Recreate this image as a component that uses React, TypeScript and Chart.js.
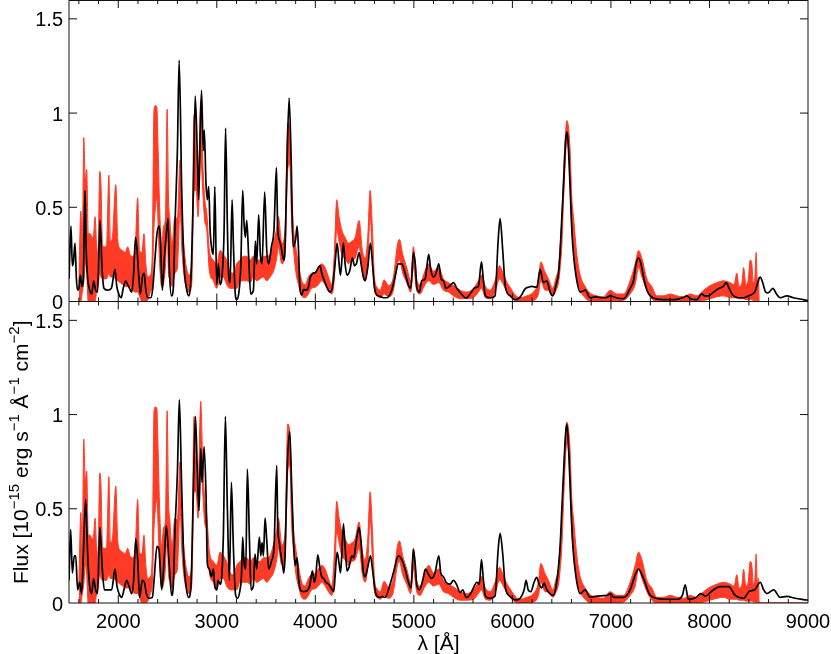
import { useEffect, useRef } from 'react';
import { Chart, registerables } from 'chart.js';

Chart.register(...registerables);

const X_MIN = 1500;
const X_MAX = 9000;
const Y_MAX = 1.6;
const xTickLabels = [2000, 3000, 4000, 5000, 6000, 7000, 8000, 9000];
const yTickLabels = [0, 0.5, 1, 1.5];
const xTitle = 'λ [Å]';

// model spectrum, upper panel: [wavelength Å, flux]
const modelTop: [number, number][] = [
  [1500, 0.12], [1520, 0.40], [1534, 0.19], [1545, 0.21], [1561, 0.31], [1575, 0.12], [1588, 0.06], [1600, 0.07],
  [1615, 0.14], [1630, 0.08], [1645, 0.12], [1662, 0.59], [1675, 0.27], [1690, 0.12], [1710, 0.06], [1730, 0.04],
  [1750, 0.11], [1770, 0.06], [1790, 0.05], [1815, 0.43], [1835, 0.18], [1855, 0.07], [1890, 0.06], [1930, 0.07],
  [1967, 0.17], [1985, 0.08], [2005, 0.04], [2030, 0.02], [2050, 0.07], [2075, 0.11], [2095, 0.09], [2115, 0.07],
  [2136, 0.05], [2155, 0.14], [2175, 0.34], [2190, 0.28], [2205, 0.16], [2224, 0.04], [2245, 0.13], [2263, 0.15],
  [2278, 0.07], [2298, 0.02], [2330, 0.02], [2350, 0.07], [2373, 0.23], [2393, 0.36], [2414, 0.40], [2427, 0.34],
  [2447, 0.06], [2468, 0.23], [2488, 0.36], [2505, 0.44], [2520, 0.15], [2540, 0.03], [2560, 0.08], [2576, 0.41],
  [2600, 0.80], [2618, 1.28], [2644, 0.59], [2667, 0.20], [2695, 0.06], [2718, 0.03], [2738, 0.13], [2762, 0.59],
  [2781, 1.09], [2803, 0.77], [2816, 0.54], [2830, 0.86], [2845, 1.12], [2863, 0.80], [2873, 0.91], [2890, 0.63],
  [2904, 0.54], [2918, 0.61], [2932, 0.38], [2952, 0.27], [2965, 0.25], [2980, 0.61], [2999, 0.09], [3016, 0.20],
  [3033, 0.09], [3057, 0.16], [3074, 0.38], [3089, 0.92], [3107, 0.41], [3121, 0.13], [3135, 0.10], [3155, 0.54],
  [3168, 0.31], [3185, 0.06], [3202, 0.01], [3222, 0.04], [3243, 0.18], [3263, 0.59], [3277, 0.41], [3290, 0.34],
  [3304, 0.43], [3324, 0.23], [3344, 0.04], [3371, 0.06], [3392, 0.32], [3405, 0.20], [3425, 0.46], [3442, 0.25],
  [3459, 0.20], [3486, 0.58], [3507, 0.27], [3527, 0.20], [3554, 0.29], [3580, 0.38], [3605, 0.71], [3618, 0.39],
  [3639, 0.32], [3653, 0.29], [3666, 0.25], [3679, 0.22], [3693, 0.29], [3710, 0.68], [3734, 1.08], [3754, 0.77],
  [3774, 0.29], [3800, 0.33], [3815, 0.40], [3828, 0.29], [3842, 0.09], [3862, 0.035], [3882, 0.065], [3902, 0.06],
  [3930, 0.075], [3950, 0.13], [3977, 0.15], [4004, 0.155], [4031, 0.18], [4048, 0.19], [4065, 0.15], [4092, 0.11],
  [4126, 0.065], [4150, 0.05], [4173, 0.075], [4200, 0.20], [4221, 0.31], [4241, 0.20], [4255, 0.14], [4285, 0.31],
  [4302, 0.20], [4322, 0.14], [4350, 0.165], [4376, 0.23], [4397, 0.19], [4417, 0.20], [4444, 0.26], [4464, 0.20],
  [4488, 0.13], [4505, 0.11], [4532, 0.18], [4559, 0.31], [4580, 0.20], [4600, 0.075], [4623, 0.035], [4657, 0.027],
  [4691, 0.02], [4725, 0.02], [4775, 0.06], [4809, 0.13], [4843, 0.20], [4877, 0.20], [4911, 0.15], [4945, 0.085],
  [4970, 0.07], [4995, 0.26], [5016, 0.19], [5029, 0.076], [5056, 0.05], [5080, 0.11], [5114, 0.12], [5151, 0.25],
  [5171, 0.17], [5198, 0.13], [5225, 0.15], [5253, 0.20], [5276, 0.12], [5300, 0.11], [5327, 0.07], [5368, 0.085],
  [5402, 0.10], [5436, 0.07], [5486, 0.037], [5530, 0.018], [5571, 0.04], [5621, 0.073], [5655, 0.08], [5686, 0.21],
  [5706, 0.11], [5726, 0.03], [5774, 0.02], [5824, 0.03], [5855, 0.32], [5875, 0.44], [5902, 0.27], [5929, 0.076],
  [5977, 0.03], [6028, 0.01], [6078, 0.023], [6129, 0.067], [6163, 0.076], [6197, 0.08], [6248, 0.076], [6281, 0.17],
  [6315, 0.10], [6349, 0.11], [6383, 0.05], [6410, 0.03], [6444, 0.09], [6468, 0.15], [6485, 0.27], [6502, 0.45],
  [6520, 0.63], [6540, 0.85], [6552, 0.90], [6565, 0.85], [6586, 0.60], [6603, 0.38], [6620, 0.25], [6654, 0.11],
  [6688, 0.05], [6738, 0.06], [6789, 0.02], [6850, 0.025], [6900, 0.02], [6950, 0.02], [6992, 0.03], [7050, 0.02],
  [7128, 0.015], [7195, 0.07], [7229, 0.11], [7255, 0.20], [7280, 0.23], [7305, 0.20], [7331, 0.13], [7365, 0.06],
  [7399, 0.03], [7450, 0.015], [7534, 0.01], [7650, 0.01], [7730, 0.02], [7771, 0.03], [7810, 0.015], [7872, 0.01],
  [7923, 0.04], [7950, 0.03], [7990, 0.03], [8041, 0.05], [8100, 0.07], [8140, 0.08], [8170, 0.10], [8200, 0.07],
  [8228, 0.04], [8295, 0.02], [8350, 0.02], [8397, 0.03], [8440, 0.04], [8464, 0.055], [8490, 0.10], [8515, 0.13],
  [8540, 0.10], [8570, 0.05], [8593, 0.045], [8644, 0.07], [8680, 0.04], [8718, 0.02], [8786, 0.03], [8850, 0.02],
  [8950, 0.01], [9000, 0.005],
];

// model spectrum, lower panel: [wavelength Å, flux]
const modelBottom: [number, number][] = [
  [1500, 0.12], [1517, 0.39], [1534, 0.16], [1554, 0.25], [1568, 0.25], [1588, 0.07], [1608, 0.11], [1628, 0.05],
  [1645, 0.25], [1669, 0.55], [1690, 0.25], [1710, 0.09], [1730, 0.05], [1750, 0.13], [1770, 0.07], [1790, 0.05],
  [1813, 0.40], [1838, 0.18], [1859, 0.07], [1893, 0.07], [1933, 0.07], [1967, 0.18], [1987, 0.09], [2008, 0.05],
  [2035, 0.03], [2062, 0.08], [2085, 0.12], [2109, 0.09], [2136, 0.05], [2156, 0.12], [2177, 0.34], [2197, 0.23],
  [2217, 0.03], [2244, 0.12], [2265, 0.11], [2285, 0.05], [2312, 0.025], [2346, 0.03], [2366, 0.14], [2393, 0.30],
  [2414, 0.28], [2441, 0.07], [2468, 0.25], [2488, 0.41], [2515, 0.22], [2542, 0.04], [2558, 0.09], [2576, 0.39],
  [2600, 0.69], [2620, 1.08], [2640, 0.69], [2661, 0.28], [2688, 0.09], [2715, 0.03], [2738, 0.09], [2762, 0.60],
  [2783, 0.99], [2803, 0.69], [2820, 0.49], [2837, 0.82], [2850, 0.64], [2871, 0.83], [2891, 0.57], [2904, 0.21],
  [2924, 0.18], [2945, 0.14], [2965, 0.18], [2979, 0.09], [3000, 0.07], [3013, 0.12], [3033, 0.10], [3050, 0.14],
  [3067, 0.37], [3087, 0.99], [3107, 0.51], [3128, 0.12], [3148, 0.64], [3168, 0.30], [3189, 0.05], [3209, 0.025],
  [3236, 0.07], [3250, 0.14], [3263, 0.35], [3277, 0.21], [3294, 0.18], [3310, 0.71], [3331, 0.34], [3348, 0.07],
  [3371, 0.09], [3388, 0.26], [3405, 0.18], [3432, 0.35], [3446, 0.25], [3459, 0.32], [3473, 0.25], [3490, 0.45],
  [3507, 0.33], [3527, 0.18], [3554, 0.22], [3581, 0.30], [3608, 0.73], [3618, 0.42], [3635, 0.32], [3652, 0.25],
  [3666, 0.21], [3679, 0.16], [3693, 0.25], [3713, 0.69], [3740, 0.91], [3760, 0.62], [3781, 0.30], [3794, 0.20],
  [3815, 0.24], [3828, 0.14], [3849, 0.07], [3876, 0.06], [3916, 0.065], [3943, 0.09], [3970, 0.17], [3990, 0.11],
  [4004, 0.14], [4025, 0.255], [4045, 0.19], [4065, 0.14], [4085, 0.13], [4106, 0.11], [4133, 0.10], [4160, 0.08],
  [4187, 0.06], [4200, 0.14], [4221, 0.27], [4241, 0.21], [4255, 0.16], [4268, 0.25], [4285, 0.42], [4302, 0.30],
  [4322, 0.17], [4342, 0.19], [4370, 0.25], [4390, 0.24], [4417, 0.335], [4444, 0.40], [4464, 0.32], [4485, 0.175],
  [4505, 0.14], [4532, 0.19], [4559, 0.25], [4580, 0.18], [4600, 0.09], [4620, 0.04], [4646, 0.03], [4680, 0.034],
  [4708, 0.03], [4759, 0.10], [4792, 0.16], [4843, 0.25], [4877, 0.23], [4911, 0.18], [4945, 0.11], [4972, 0.08],
  [4995, 0.285], [5016, 0.19], [5029, 0.096], [5056, 0.07], [5090, 0.12], [5117, 0.18], [5151, 0.15], [5182, 0.13],
  [5215, 0.16], [5253, 0.25], [5273, 0.16], [5300, 0.14], [5327, 0.11], [5368, 0.10], [5402, 0.12], [5436, 0.095],
  [5469, 0.055], [5496, 0.07], [5530, 0.03], [5564, 0.04], [5605, 0.08], [5638, 0.11], [5665, 0.10], [5686, 0.23],
  [5706, 0.12], [5726, 0.037], [5774, 0.025], [5824, 0.037], [5855, 0.28], [5875, 0.37], [5902, 0.26], [5929, 0.08],
  [5977, 0.035], [6028, 0.016], [6078, 0.025], [6119, 0.07], [6139, 0.12], [6160, 0.07], [6187, 0.06], [6220, 0.11],
  [6247, 0.136], [6271, 0.10], [6298, 0.08], [6322, 0.105], [6346, 0.073], [6383, 0.048], [6410, 0.04], [6444, 0.09],
  [6484, 0.30], [6502, 0.50], [6520, 0.70], [6540, 0.90], [6552, 0.95], [6565, 0.88], [6586, 0.62], [6603, 0.40],
  [6620, 0.26], [6654, 0.11], [6688, 0.05], [6738, 0.07], [6789, 0.03], [6860, 0.037], [6960, 0.04], [6992, 0.05],
  [7030, 0.03], [7128, 0.03], [7195, 0.07], [7240, 0.14], [7280, 0.18], [7331, 0.13], [7399, 0.04], [7534, 0.02],
  [7680, 0.02], [7725, 0.04], [7754, 0.096], [7785, 0.02], [7860, 0.028], [7913, 0.05], [7960, 0.037], [8025, 0.064],
  [8109, 0.087], [8194, 0.087], [8262, 0.04], [8346, 0.025], [8400, 0.06], [8464, 0.073], [8515, 0.11], [8550, 0.07],
  [8583, 0.05], [8651, 0.07], [8718, 0.03], [8786, 0.035], [8870, 0.025], [8989, 0.016], [9000, 0.015],
];

// observed spectrum (noisy): [wavelength Å, upper envelope, lower envelope]
const observed: [number, number, number][] = [
  [1600, 0.10, 0.00], [1620, 0.48, 0.00], [1635, 0.30, 0.05], [1650, 0.87, 0.10], [1665, 0.65, 0.20],
  [1680, 0.70, 0.15], [1695, 0.36, 0.00], [1715, 0.36, 0.00], [1735, 0.34, 0.00], [1750, 0.36, 0.00],
  [1765, 0.45, 0.00], [1780, 0.30, 0.05], [1795, 0.25, 0.08], [1812, 0.69, 0.15], [1825, 0.62, 0.13],
  [1840, 0.30, 0.12], [1860, 0.29, 0.12], [1880, 0.29, 0.12], [1905, 0.67, 0.15], [1920, 0.32, 0.13],
  [1940, 0.34, 0.13], [1975, 0.62, 0.12], [1995, 0.33, 0.11], [2020, 0.28, 0.10], [2045, 0.27, 0.09],
  [2070, 0.26, 0.08], [2096, 0.29, 0.08], [2120, 0.25, 0.08], [2145, 0.24, 0.06], [2170, 0.27, 0.05],
  [2197, 0.55, 0.05], [2215, 0.27, 0.03], [2240, 0.26, 0.00], [2261, 0.36, 0.00], [2280, 0.20, 0.00],
  [2300, 0.13, 0.01], [2325, 0.14, 0.05], [2345, 0.25, 0.10], [2363, 1.02, 0.40], [2378, 1.04, 0.50],
  [2392, 1.03, 0.55], [2405, 0.80, 0.40], [2420, 0.50, 0.20], [2440, 0.30, 0.08], [2460, 0.40, 0.10],
  [2480, 0.45, 0.20], [2496, 1.02, 0.40], [2510, 0.55, 0.15], [2522, 0.45, 0.12], [2545, 0.30, 0.08],
  [2575, 0.45, 0.15], [2600, 0.44, 0.18], [2627, 0.75, 0.50], [2645, 0.48, 0.28], [2670, 0.27, 0.13],
  [2700, 0.16, 0.06], [2718, 0.14, 0.05], [2745, 0.20, 0.09], [2769, 0.99, 0.59], [2790, 0.80, 0.59],
  [2810, 0.59, 0.45], [2837, 1.07, 0.77], [2857, 0.75, 0.59], [2877, 0.55, 0.43], [2898, 0.47, 0.38],
  [2925, 0.27, 0.16], [2965, 0.22, 0.11], [3000, 0.20, 0.07], [3033, 0.27, 0.13], [3067, 0.25, 0.13],
  [3100, 0.22, 0.09], [3135, 0.16, 0.07], [3168, 0.15, 0.07], [3202, 0.20, 0.07], [3236, 0.22, 0.11],
  [3270, 0.24, 0.11], [3304, 0.24, 0.11], [3338, 0.22, 0.10], [3371, 0.24, 0.13], [3405, 0.22, 0.11],
  [3440, 0.22, 0.12], [3473, 0.24, 0.13], [3507, 0.24, 0.11], [3540, 0.25, 0.13], [3575, 0.31, 0.16],
  [3608, 0.39, 0.23], [3625, 0.45, 0.29], [3660, 0.31, 0.20], [3693, 0.38, 0.25], [3720, 0.95, 0.70],
  [3740, 0.90, 0.73], [3760, 0.59, 0.41], [3780, 0.38, 0.27], [3801, 0.29, 0.16], [3828, 0.20, 0.09],
  [3862, 0.11, 0.03], [3896, 0.09, 0.02], [3930, 0.13, 0.04], [3963, 0.15, 0.07], [3997, 0.155, 0.075],
  [4031, 0.18, 0.09], [4065, 0.20, 0.11], [4099, 0.18, 0.09], [4133, 0.13, 0.06], [4167, 0.09, 0.04],
  [4194, 0.27, 0.13], [4217, 0.54, 0.38], [4241, 0.45, 0.32], [4268, 0.38, 0.25], [4302, 0.34, 0.23],
  [4336, 0.31, 0.20], [4370, 0.32, 0.22], [4404, 0.34, 0.23], [4444, 0.43, 0.29], [4478, 0.27, 0.15],
  [4505, 0.23, 0.11], [4532, 0.34, 0.20], [4556, 0.59, 0.45], [4580, 0.38, 0.23], [4600, 0.13, 0.06],
  [4627, 0.075, 0.03], [4660, 0.06, 0.02], [4698, 0.115, 0.04], [4742, 0.085, 0.025], [4792, 0.13, 0.06],
  [4833, 0.30, 0.20], [4853, 0.33, 0.22], [4887, 0.25, 0.15], [4928, 0.18, 0.10], [4968, 0.11, 0.05],
  [4995, 0.29, 0.18], [5029, 0.12, 0.06], [5063, 0.09, 0.04], [5104, 0.15, 0.08], [5151, 0.20, 0.11],
  [5198, 0.16, 0.09], [5253, 0.18, 0.10], [5300, 0.12, 0.06], [5351, 0.10, 0.05], [5402, 0.085, 0.03],
  [5469, 0.06, 0.015], [5537, 0.05, 0.015], [5605, 0.07, 0.02], [5655, 0.11, 0.05], [5686, 0.14, 0.07],
  [5726, 0.08, 0.02], [5774, 0.06, 0.015], [5824, 0.11, 0.05], [5869, 0.19, 0.12], [5902, 0.155, 0.095],
  [5937, 0.11, 0.06], [5977, 0.075, 0.03], [6028, 0.035, 0.005], [6078, 0.02, 0.0], [6146, 0.03, 0.0],
  [6213, 0.05, 0.005], [6264, 0.11, 0.04], [6288, 0.21, 0.11], [6332, 0.155, 0.06], [6366, 0.12, 0.06],
  [6410, 0.07, 0.03], [6444, 0.13, 0.06], [6468, 0.18, 0.10], [6485, 0.30, 0.18], [6502, 0.45, 0.30],
  [6520, 0.70, 0.55], [6540, 0.90, 0.78], [6552, 0.96, 0.85], [6570, 0.92, 0.80], [6586, 0.80, 0.62],
  [6603, 0.55, 0.38], [6620, 0.45, 0.27], [6654, 0.25, 0.13], [6688, 0.14, 0.06], [6738, 0.08, 0.02],
  [6789, 0.045, 0.0], [6856, 0.03, 0.0], [6924, 0.025, 0.0], [6992, 0.06, 0.0], [7060, 0.04, 0.0],
  [7128, 0.04, 0.005], [7195, 0.11, 0.04], [7246, 0.20, 0.09], [7280, 0.27, 0.18], [7314, 0.23, 0.13],
  [7365, 0.12, 0.06], [7415, 0.08, 0.015], [7466, 0.03, 0.0], [7534, 0.03, 0.0], [7601, 0.04, 0.0],
  [7669, 0.03, 0.0], [7737, 0.025, 0.0], [7804, 0.04, 0.0], [7872, 0.03, 0.0], [7940, 0.06, 0.005],
  [8008, 0.085, 0.015], [8075, 0.10, 0.025], [8143, 0.11, 0.03], [8211, 0.10, 0.02], [8250, 0.09, 0.02],
  [8278, 0.15, 0.02], [8300, 0.08, 0.015], [8330, 0.10, 0.015], [8346, 0.18, 0.015], [8370, 0.09, 0.01],
  [8395, 0.12, 0.01], [8413, 0.22, 0.01], [8430, 0.20, 0.01], [8445, 0.10, 0.005], [8460, 0.12, 0.005],
  [8474, 0.26, 0.005], [8486, 0.10, 0.0], [8498, 0.13, 0.0], [8505, 0.0, 0.0], [9000, 0.0, 0.0],
];

const FONT = '"Liberation Sans", Arial, Helvetica, sans-serif';
const RED = '#ff3b26';
const BLACK = '#000000';

export default function App() {
  const ref = useRef<HTMLCanvasElement>(null);

  useEffect(() => {
    if (!ref.current) return;
    const pairs = (arr: [number, number][]) => arr.map(([x, y]) => ({ x, y }));
    const upper = () => observed.map(([x, h]) => ({ x, y: h }));
    const lower = () => observed.map(([x, , l]) => ({ x, y: l }));
    const line = (data: any, axis: string, color: string, width: number, order: number, fill: any) => ({
      data,
      yAxisID: axis,
      borderColor: color,
      backgroundColor: color,
      borderWidth: width,
      pointRadius: 0,
      cubicInterpolationMode: 'monotone',
      fill,
      order,
    });

    const frame = {
      id: 'frame',
      afterDraw(chart: any) {
        const ctx = chart.ctx as CanvasRenderingContext2D;
        const { left, right, top, bottom } = chart.chartArea;
        const xs = chart.scales.x;
        const yT = chart.scales.yTop;
        const yB = chart.scales.yBot;
        const mid = yT.getPixelForValue(0);
        ctx.save();
        ctx.strokeStyle = '#111';
        ctx.lineWidth = 1;
        ctx.beginPath();
        ctx.moveTo(left, top + 0.5); ctx.lineTo(right, top + 0.5);
        ctx.moveTo(left, mid); ctx.lineTo(right, mid);
        ctx.moveTo(left, bottom); ctx.lineTo(right, bottom);
        ctx.moveTo(left, top); ctx.lineTo(left, bottom);
        ctx.moveTo(right, top); ctx.lineTo(right, bottom);
        // x ticks (inward), minor every 200 Å, major every 1000 Å
        for (let wl = X_MIN + 100; wl < X_MAX; wl += 200) {
          const px = xs.getPixelForValue(wl);
          const len = wl % 1000 === 0 ? 8 : 4;
          ctx.moveTo(px, top); ctx.lineTo(px, top + len);
          ctx.moveTo(px, mid); ctx.lineTo(px, mid - len);
          ctx.moveTo(px, mid); ctx.lineTo(px, mid + len);
          ctx.moveTo(px, bottom); ctx.lineTo(px, bottom - len);
        }
        // y ticks (inward, both sides, both panels)
        for (const sc of [yT, yB]) {
          for (const v of yTickLabels) {
            if (v === 0) continue;
            const py = sc.getPixelForValue(v);
            ctx.moveTo(left, py); ctx.lineTo(left + 8, py);
            ctx.moveTo(right, py); ctx.lineTo(right - 8, py);
          }
        }
        ctx.stroke();

        ctx.fillStyle = '#000';
        ctx.font = `20px ${FONT}`;
        ctx.textAlign = 'right';
        ctx.textBaseline = 'alphabetic';
        for (const sc of [yT, yB]) {
          for (const v of yTickLabels) {
            ctx.fillText(String(v), 63, sc.getPixelForValue(v) + 7.5);
          }
        }
        ctx.textAlign = 'center';
        for (const v of xTickLabels) {
          ctx.fillText(String(v), xs.getPixelForValue(v), bottom + 25);
        }
        ctx.font = `21px ${FONT}`;
        ctx.fillText(xTitle, (left + right) / 2, 650);

        // y title with superscripts, rotated
        const parts: [string, boolean][] = [
          ['Flux [10', false], ['−15', true], [' erg s', false], ['−1', true],
          [' Å', false], ['−1', true], [' cm', false], ['−2', true], [']', false],
        ];
        const fontFor = (sup: boolean) => (sup ? `15px ${FONT}` : `21px ${FONT}`);
        let total = 0;
        const widths = parts.map(([t, s]) => {
          ctx.font = fontFor(s);
          const w = ctx.measureText(t).width;
          total += w;
          return w;
        });
        ctx.translate(28, (mid + bottom) / 2);
        ctx.rotate(-Math.PI / 2);
        ctx.textAlign = 'left';
        let x = -total / 2;
        parts.forEach(([t, s], i) => {
          ctx.font = fontFor(s);
          ctx.fillText(t, x, s ? -9 : 0);
          x += widths[i];
        });
        ctx.restore();
      },
    };

    const chart = new Chart(ref.current, {
      type: 'line',
      data: {
        datasets: [
          line(pairs(modelTop), 'yTop', BLACK, 1.7, 0, false),
          line(pairs(modelBottom), 'yBot', BLACK, 1.7, 0, false),
          line(upper(), 'yTop', RED, 1, 1, '+1'),
          line(lower(), 'yTop', RED, 1, 1, false),
          line(upper(), 'yBot', RED, 1, 1, '+1'),
          line(lower(), 'yBot', RED, 1, 1, false),
        ] as any,
      },
      options: {
        animation: false,
        responsive: false,
        devicePixelRatio: 1,
        events: [],
        layout: { padding: { left: 69, right: 23, top: 0, bottom: 51 } },
        plugins: { legend: { display: false }, tooltip: { enabled: false } },
        scales: {
          x: { type: 'linear', min: X_MIN, max: X_MAX, display: false },
          yTop: { type: 'linear', min: -Y_MAX, max: Y_MAX, display: false },
          yBot: { type: 'linear', min: 0, max: 2 * Y_MAX, display: false },
        },
      },
      plugins: [frame],
    });
    return () => chart.destroy();
  }, []);

  return (
    <div style={{ position: 'fixed', left: 0, top: 0, width: 831, height: 654, background: '#fff' }}>
      <canvas ref={ref} width={831} height={654} style={{ display: 'block' }} />
    </div>
  );
}
